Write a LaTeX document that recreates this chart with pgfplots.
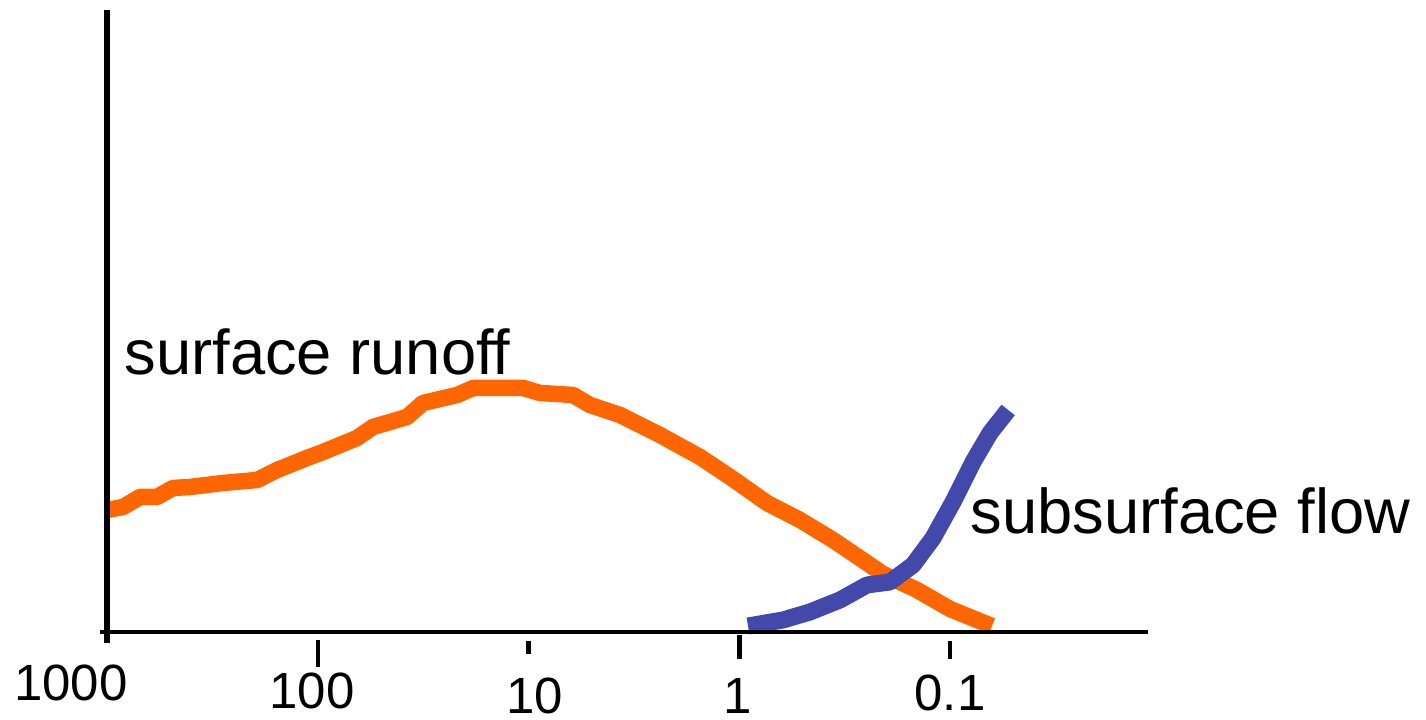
\documentclass[border=0pt]{standalone}
\usepackage{fontspec}
\setmainfont{Liberation Sans}
\usepackage{pgfplots}
\pgfplotsset{compat=1.18}
\definecolor{runoff}{HTML}{FF6600}
\definecolor{subflow}{HTML}{4349AA}

\begin{document}
\begin{tikzpicture}
\begin{axis}[
    at={(1.07cm,0.77cm)}, anchor=south west,
    scale only axis, width=10.41cm, height=6.33cm,
    xmode=log, x dir=reverse,
    xmin=0.0115, xmax=1000, ymin=-11, ymax=622,
    hide axis, clip=false,
]
% surface runoff
\addplot[runoff, line width=0.165cm, line join=round] coordinates {
    (1000,122) (839.5,125) (697,135) (579,135) (486,144) (404,145)
    (281.6,149) (194,152) (156,162) (112.5,174) (94.4,180) (65.1,194)
    (54.7,205) (37.7,215) (31.7,229) (21.8,237) (18.3,244) (10.6,244)
    (8.82,239) (6.15,237) (5.11,227) (3.68,217) (2.38,197) (1.535,175)
    (1.071,153) (0.739,129) (0.515,112) (0.359,92) (0.2477,69) (0.208,58)
    (0.1434,42) (0.1,23) (0.0668,8) (0.0632,6)
};
% subsurface flow
\addplot[subflow, line width=0.17cm, line join=round] coordinates {
    (0.9089,6) (0.620,12) (0.4617,20) (0.3327,32) (0.2477,47) (0.1927,50)
    (0.1498,67) (0.1204,94) (0.0968,130) (0.0778,170) (0.0646,199)
    (0.0530,222)
};

% axis lines and ticks
\draw[line width=0.045cm] (axis cs:1079,0) -- (axis cs:0.0115,0);
\draw[line width=0.055cm] (axis cs:1000,-11) -- (axis cs:1000,622);
\draw[line width=0.045cm] (axis cs:100,-8) -- (axis cs:100,-35);
\draw[line width=0.045cm] (axis cs:10,-9) -- (axis cs:10,-22);
\draw[line width=0.045cm] (axis cs:1,-3) -- (axis cs:1,-27);
\draw[line width=0.045cm] (axis cs:0.1,-9) -- (axis cs:0.1,-27);

% tick labels
\begin{scope}[every node/.style={font=\fontsize{14.5}{16}\selectfont, inner sep=0pt}]
\node at (axis cs:1482,-51) {1000};
\node at (axis cs:106.5,-59) {100};
\node at (axis cs:9.316,-63.5) {10};
\node at (axis cs:1.02,-63.5) {1};
\node at (axis cs:0.1,-61) {0.1};
\end{scope}
\end{axis}

\node[anchor=base west, inner sep=0pt, font=\fontsize{18}{20}\selectfont]
    at (1.24cm,3.45cm) {surface runoff};
\node[anchor=base west, inner sep=0pt, font=\fontsize{18}{20}\selectfont]
    at (9.70cm,1.86cm) {subsurface flow};

\pgfresetboundingbox
\path[use as bounding box] (0,0) rectangle (14.26cm,7.2cm);
\end{tikzpicture}
\end{document}
